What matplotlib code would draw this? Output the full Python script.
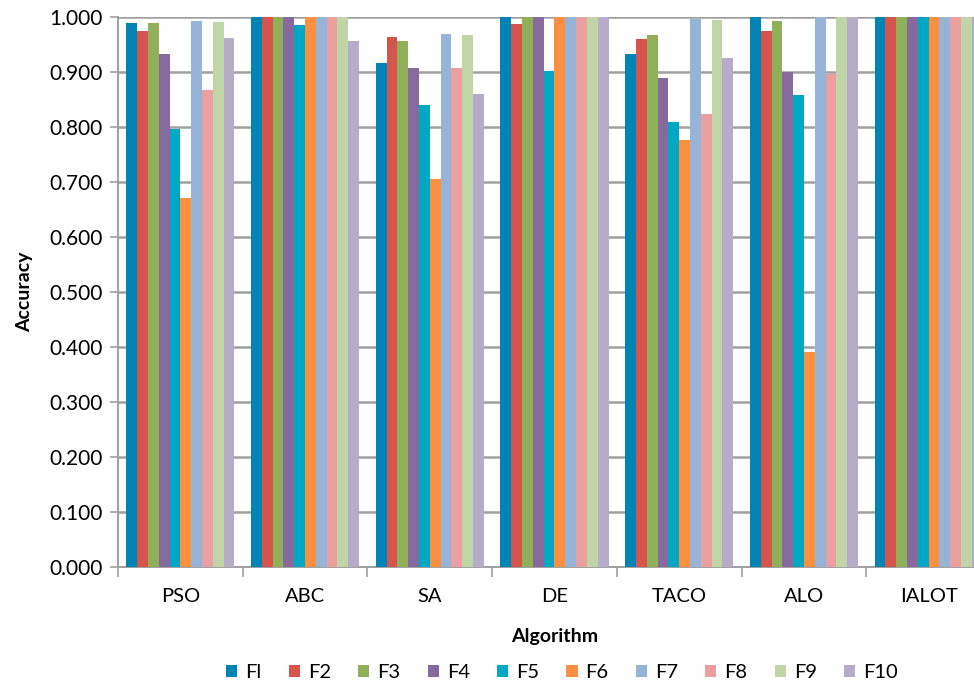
import matplotlib.pyplot as plt
import numpy as np

plt.rcParams['font.family'] = ['Lato', 'DejaVu Sans']

algorithms = ['PSO', 'ABC', 'SA', 'DE', 'TACO', 'ALO', 'IALOT']
series = ['Fl', 'F2', 'F3', 'F4', 'F5', 'F6', 'F7', 'F8', 'F9', 'F10']

# accuracy per function (rows) for each algorithm (columns)
f1 = [0.989, 1.000, 0.916, 1.000, 0.932, 1.000, 1.000]
f2 = [0.973, 1.000, 0.963, 0.986, 0.959, 0.973, 1.000]
f3 = [0.989, 1.000, 0.955, 1.000, 0.966, 0.992, 1.000]
f4 = [0.932, 1.000, 0.907, 1.000, 0.888, 0.900, 1.000]
f5 = [0.796, 0.985, 0.839, 0.901, 0.808, 0.857, 1.000]
f6 = [0.671, 1.000, 0.704, 1.000, 0.776, 0.390, 1.000]
f7 = [0.992, 1.000, 0.969, 1.000, 0.995, 1.000, 1.000]
f8 = [0.867, 1.000, 0.907, 1.000, 0.823, 0.896, 1.000]
f9 = [0.990, 1.000, 0.967, 1.000, 0.994, 1.000, 1.000]
f10 = [0.961, 0.955, 0.860, 1.000, 0.924, 1.000, 1.000]
values = [f1, f2, f3, f4, f5, f6, f7, f8, f9, f10]

colors = ['#0084B6', '#D5554C', '#8FB058', '#876A9D', '#00A8C4',
          '#FC8F40', '#95B4D8', '#EAA0A0', '#C0D5A5', '#B6ABC8']

fig = plt.figure(figsize=(9.74, 6.85), dpi=100)
ax = fig.add_axes([0.1211, 0.1727, 0.8964, 0.803])

x = np.arange(len(algorithms))
width = 0.0866
offset0 = -4.5 * width
for i, (name, vals) in enumerate(zip(series, values)):
    ax.bar(x + offset0 + i * width, vals, width, color=colors[i], label=name,
           zorder=3)

ax.set_xlim(-0.5, len(algorithms) - 0.5)
ax.set_ylim(0, 1.0)
ax.set_yticks(np.arange(0, 1.01, 0.1))
ax.set_yticklabels(['%.3f' % v for v in np.arange(0, 1.01, 0.1)], fontsize=15)
ax.yaxis.grid(True, color='#A0A0A0', linewidth=1.8, zorder=0)
ax.set_axisbelow(True)

# group separators as major ticks, names centred on the groups
ax.set_xticks(np.arange(-0.5, len(algorithms), 1.0))
ax.set_xticklabels([])
ax.set_xticks(x, minor=True)
ax.set_xticklabels(algorithms, minor=True, fontsize=14.5)
ax.tick_params(axis='x', which='major', length=7, color='#A0A0A0', width=1.2)
ax.tick_params(axis='x', which='minor', length=0, pad=15)
ax.tick_params(axis='y', length=6, color='#A0A0A0', width=1.2, pad=5)

for side in ['top', 'right']:
    ax.spines[side].set_visible(False)
for side in ['left', 'bottom']:
    ax.spines[side].set_color('#A0A0A0')
    ax.spines[side].set_linewidth(1.4)

ax.set_ylabel('Accuracy', fontsize=14, fontweight='bold', labelpad=12)
ax.set_xlabel('Algorithm', fontsize=14, fontweight='bold', labelpad=17)

fig.legend(loc='center', bbox_to_anchor=(0.577, 0.018), ncol=10, frameon=False,
           fontsize=14.5, handlelength=0.55, handleheight=0.55,
           handletextpad=0.4, columnspacing=1.35)

plt.savefig('out.png', dpi=100)
